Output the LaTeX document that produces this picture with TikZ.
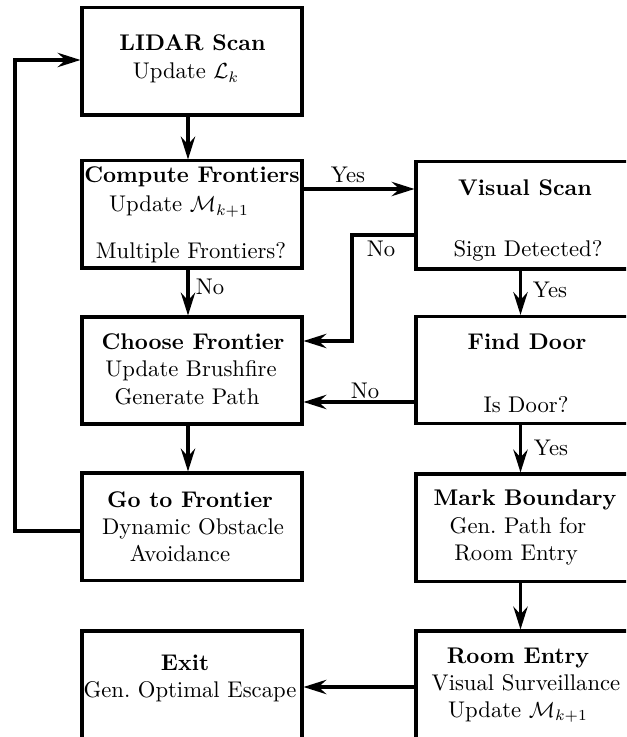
\documentclass[tikz,border=0pt]{standalone}
\usetikzlibrary{arrows.meta}

\tikzset{
  stepbox/.style={draw, line width=1.4pt, minimum width=100.9pt, minimum height=49.1pt, inner sep=0pt},
  txt/.style={anchor=base, inner sep=0pt, font=\fontsize{10.4pt}{12.5pt}\selectfont},
  ttl/.style={txt, font=\fontsize{10.4pt}{12.5pt}\selectfont\bfseries},
  arr/.style={line width=1.4pt, -{Stealth[length=10.5pt, width=6.6pt, inset=3.6pt]}},
}

\begin{document}
\begin{tikzpicture}[x=0.4587pt, y=-0.4587pt]
  \clip (0,0) rectangle (626,737);

  % boxes, left column
  \node[stepbox] (scan)   at (192, 61.5) {};
  \node[stepbox] (front)  at (192,214.5) {};
  \node[stepbox] (choose) at (192,370.5) {};
  \node[stepbox] (goto)   at (192,526.5) {};
  \node[stepbox] (exit)   at (192,684.5) {};
  % boxes, right column
  \node[stepbox] (visual) at (526,215.5) {};
  \node[stepbox] (door)   at (526,370)   {};
  \node[stepbox] (mark)   at (526,527.5) {};
  \node[stepbox] (room)   at (526,684.5) {};

  % box texts
  \node[ttl] (scan-a)   at (192.5, 51) {LIDAR Scan};
  \node[txt] (scan-b)   at (186, 79)  {Update $\mathcal{L}_k$};

  \node[ttl] (front-a)  at (192,183) {Compute Frontiers};
  \node[txt] (front-b)  at (179,212) {Update $\mathcal{M}_{k+1}$};
  \node[txt] (front-c)  at (191,259) {Multiple Frontiers?};

  \node[ttl] (choose-a) at (193,350) {Choose Frontier};
  \node[txt] (choose-b) at (191,377) {Update Brushfire};
  \node[txt] (choose-c) at (187,404) {Generate Path};

  \node[ttl] (goto-a)   at (190,507) {Go to Frontier};
  \node[txt] (goto-b)   at (193,534) {Dynamic Obstacle};
  \node[txt] (goto-c)   at (180,561) {Avoidance};

  \node[ttl] (exit-a)   at (185,670) {Exit};
  \node[txt] (exit-b)   at (190,697) {Gen.\ Optimal Escape};

  \node[ttl] (visual-a) at (525,196) {Visual Scan};
  \node[txt] (visual-b) at (528,257) {Sign Detected?};

  \node[ttl] (door-a)   at (527,350) {Find Door};
  \node[txt] (door-b)   at (526,412) {Is Door?};

  \node[ttl] (mark-a)   at (525,505) {Mark Boundary};
  \node[txt] (mark-b)   at (518,533) {Gen.\ Path for};
  \node[txt] (mark-c)   at (516,560) {Room Entry};

  \node[ttl] (room-a)   at (518,663) {Room Entry};
  \node[txt] (room-b)   at (526,690) {Visual Surveillance};
  \node[txt] (room-c)   at (518,717) {Update $\mathcal{M}_{k+1}$};

  % routing guides
  \coordinate (lx)     at (188,0);
  \coordinate (rx)     at (520.5,0);
  \coordinate (yYes)   at (0,189);
  \coordinate (yNoA)   at (0,235);
  \coordinate (xNoA)   at (352,0);
  \coordinate (yNoA2)  at (0,341);
  \coordinate (yNoB)   at (0,402);
  \coordinate (yExit)  at (0,687);
  \coordinate (yLoop)  at (0,531);
  \coordinate (yLoopIn) at (0,60);
  \coordinate (xLoop)  at (15,0);

  % connectors
  \draw[arr] (scan.south -| lx) -- (front.north -| lx);
  \draw[arr] (front.south -| lx) -- (choose.north -| lx);
  \draw[arr] (choose.south -| lx) -- (goto.north -| lx);
  \draw[arr] (front.east |- yYes) -- (visual.west |- yYes);
  \draw[arr] (visual.west |- yNoA) -| (xNoA |- yNoA2) -- (choose.east |- yNoA2);
  \draw[arr] (visual.south -| rx) -- (door.north -| rx);
  \draw[arr] (door.west |- yNoB) -- (choose.east |- yNoB);
  \draw[arr] (door.south -| rx) -- (mark.north -| rx);
  \draw[arr] (mark.south -| rx) -- (room.north -| rx);
  \draw[arr] (room.west |- yExit) -- (exit.east |- yExit);
  \draw[arr] (goto.west |- yLoop) -| (xLoop |- yLoopIn) -- (scan.west |- yLoopIn);

  % connector labels
  \node[txt] (l-yes1) at (348,183) {Yes};
  \node[txt] (l-no1)  at (381,257) {No};
  \node[txt] (l-no2)  at (210,295) {No};
  \node[txt] (l-yes2) at (550,298) {Yes};
  \node[txt] (l-no3)  at (365,398) {No};
  \node[txt] (l-yes3) at (551,455) {Yes};
\end{tikzpicture}
\end{document}
